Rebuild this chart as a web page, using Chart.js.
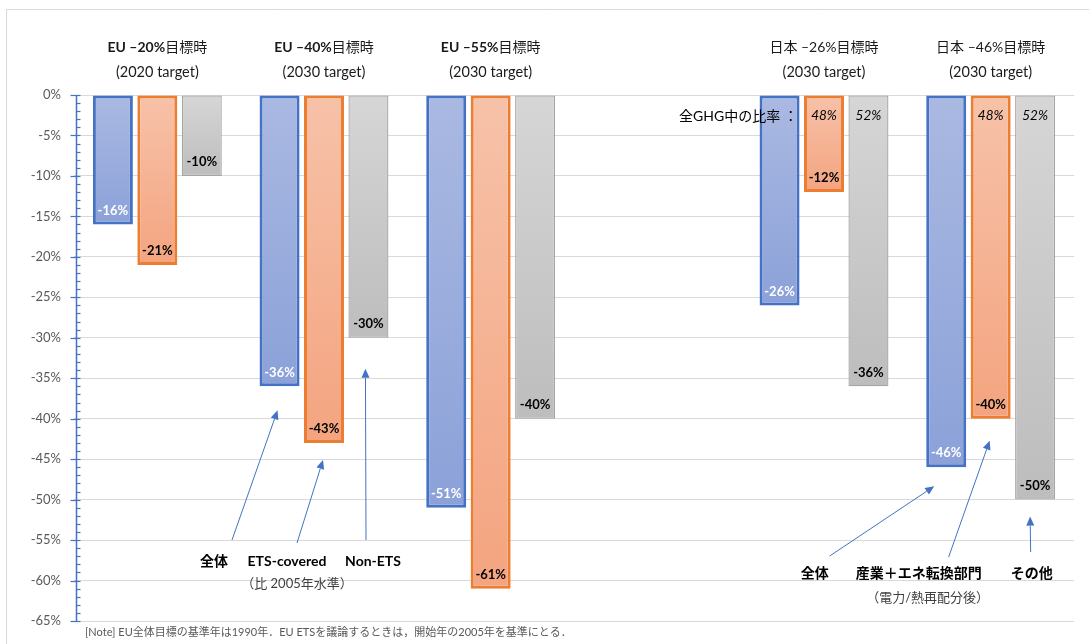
<!DOCTYPE html>
<html>
<head>
<meta charset="utf-8">
<script src="https://cdn.jsdelivr.net/npm/chart.js@4.4.1/dist/chart.umd.min.js"></script>
<style>
  html, body { margin: 0; padding: 0; background: #ffffff; }
  #wrap { position: relative; width: 1089px; height: 644px; }
</style>
</head>
<body>
<div id="wrap"><canvas id="c" width="1089" height="644"></canvas></div>
<script>
// ---- data ----
const categories = ['EU -20%', 'EU -40%', 'EU -55%', '', '日本 -26%', '日本 -46%'];
const totalValues  = [-16, -36, -51, null, -26, -46];   // 全体
const etsValues    = [-21, -43, -61, null, -12, -40];   // ETS-covered / 産業+エネ転換部門
const nonEtsValues = [-10, -30, -40, null, -36, -50];   // Non-ETS / その他
const titleBold    = ['EU –20%', 'EU –40%', 'EU –55%', '', '', ''];
const titleRegular = ['目標時', '目標時', '目標時', '', '日本 –26%目標時', '日本 –46%目標時'];
const titleSub     = ['(2020 target)', '(2030 target)', '(2030 target)', '', '(2030 target)', '(2030 target)'];
const shareEts     = [null, null, null, null, '48%', '48%'];
const shareNonEts  = [null, null, null, null, '52%', '52%'];
const yMin = -65, yMax = 0, yStep = 5;
const noteText = '[Note] EU全体目標の基準年は1990年．EU ETSを議論するときは，開始年の2005年を基準にとる．';

const FONT = 'Lato, "Noto Sans CJK JP", sans-serif';
const AXIS_SHIFT = 2;

function grad(top, bottom) {
  return (ctx) => {
    const chart = ctx.chart;
    if (ctx.type !== 'data' || !chart.scales || !chart.scales.y || ctx.raw == null) return bottom;
    const ys = chart.scales.y;
    const y0 = ys.getPixelForValue(0), y1 = ys.getPixelForValue(ctx.raw);
    if (!isFinite(y0) || !isFinite(y1)) return bottom;
    const g = chart.ctx.createLinearGradient(0, y0, 0, y1);
    g.addColorStop(0, top);
    g.addColorStop(1, bottom);
    return g;
  };
}

function arrow(c, x1, y1, x2, y2) {
  c.save();
  c.strokeStyle = '#4472C4';
  c.fillStyle = '#4472C4';
  c.lineWidth = 1;
  const a = Math.atan2(y2 - y1, x2 - x1);
  const L = 9, W = 4;
  const bx = x2 - L * Math.cos(a), by = y2 - L * Math.sin(a);
  c.beginPath(); c.moveTo(x1, y1); c.lineTo(bx, by); c.stroke();
  c.beginPath();
  c.moveTo(x2, y2);
  c.lineTo(bx + W * Math.sin(a), by - W * Math.cos(a));
  c.lineTo(bx - W * Math.sin(a), by + W * Math.cos(a));
  c.closePath(); c.fill();
  c.restore();
}

const framePlugin = {
  id: 'frame',
  beforeDraw(chart) {
    const c = chart.ctx;
    c.save();
    c.fillStyle = '#fff';
    c.fillRect(0, 0, chart.width, chart.height);
    c.strokeStyle = '#d9d9d9';
    c.lineWidth = 1;
    c.beginPath();
    c.moveTo(6.5, chart.height); c.lineTo(6.5, 9.5); c.lineTo(chart.width, 9.5);
    c.stroke();
    c.restore();
  }
};

const axisPlugin = {
  id: 'blueAxis',
  afterDatasetsDraw(chart) {
    const c = chart.ctx, ys = chart.scales.y, ca = chart.chartArea;
    const x = Math.round(ca.left) + AXIS_SHIFT + 0.5;
    c.save();
    c.strokeStyle = '#4472C4';
    c.lineWidth = 1.5;
    c.beginPath(); c.moveTo(x, ys.getPixelForValue(yMax)); c.lineTo(x, ys.getPixelForValue(yMin)); c.stroke();
    c.lineWidth = 1.2;
    for (let v = yMax; v >= yMin; v -= 1) {
      const y = Math.round(ys.getPixelForValue(v)) + 0.5;
      c.beginPath();
      if (v % yStep === 0) { c.moveTo(x - 6, y); c.lineTo(x + 4, y); }
      else { c.moveTo(x, y); c.lineTo(x + 4, y); }
      c.stroke();
    }
    c.restore();
  }
};

const labelPlugin = {
  id: 'labels',
  afterDatasetsDraw(chart) {
    const c = chart.ctx;
    const xs = chart.scales.x, ys = chart.scales.y;
    const labelColors = ['#ffffff', '#000000', '#000000'];
    c.save();
    c.textAlign = 'center';
    c.textBaseline = 'middle';
    // value labels near bar ends
    chart.data.datasets.forEach((ds, di) => {
      const meta = chart.getDatasetMeta(di);
      meta.data.forEach((el, i) => {
        const v = ds.data[i];
        if (v == null) return;
        c.font = 'bold 13px ' + FONT;
        c.fillStyle = labelColors[di];
        c.fillText(v + '%', el.x, el.y - 14);
      });
    });
    // share labels (italic)
    const etsMeta = chart.getDatasetMeta(1), nonMeta = chart.getDatasetMeta(2);
    c.font = 'italic 13.5px ' + FONT;
    c.fillStyle = '#000';
    const yShare = ys.getPixelForValue(-2.6);
    shareEts.forEach((s, i) => { if (s) c.fillText(s, etsMeta.data[i].x, yShare); });
    shareNonEts.forEach((s, i) => { if (s) c.fillText(s, nonMeta.data[i].x, yShare); });
    // "全GHG中の比率 ："
    const firstShare = shareEts.findIndex(s => s);
    if (firstShare >= 0) {
      c.textAlign = 'left';
      c.font = '14px ' + FONT;
      c.fillText('全GHG中の比率 ：', xs.getPixelForValue(firstShare) - 145, yShare);
    }
    // group titles
    c.fillStyle = '#1a1a1a';
    categories.forEach((cat, i) => {
      const cx = xs.getPixelForValue(i);
      const b = titleBold[i], r = titleRegular[i];
      if (b || r) {
        c.font = 'bold 14px ' + FONT; const wb = c.measureText(b).width;
        c.font = '14px ' + FONT; const wr = c.measureText(r).width;
        let x0 = cx - (wb + wr) / 2;
        c.textAlign = 'left';
        c.font = 'bold 14px ' + FONT; c.fillText(b, x0, 47);
        c.font = '14px ' + FONT; c.fillText(r, x0 + wb, 47);
      }
      if (titleSub[i]) {
        c.textAlign = 'center';
        c.font = '14.5px ' + FONT;
        c.fillText(titleSub[i], cx, 72);
      }
    });

    // bottom annotations for EU -40% group
    const eu = 1, cxE = xs.getPixelForValue(eu);
    const m0 = chart.getDatasetMeta(0).data, m1 = etsMeta.data, m2 = nonMeta.data;
    arrow(c, cxE - 92, 540, m0[eu].x - 2, m0[eu].y + 24);
    arrow(c, cxE - 27, 543, m1[eu].x - 1, m1[eu].y + 17);
    arrow(c, cxE + 42, 540, m2[eu].x - 3, m2[eu].y + 31);
    c.textAlign = 'center';
    c.fillStyle = '#000';
    c.font = 'bold 14px ' + FONT;
    c.fillText('全体', cxE - 110, 561);
    c.fillText('ETS-covered', cxE - 37, 561);
    c.fillText('Non-ETS', cxE + 49, 561);
    c.font = '13px ' + FONT;
    c.fillStyle = '#404040';
    c.fillText('（比 2005年水準）', cxE - 27, 584);

    // bottom annotations for Japan -46% group
    const jp = 5, cxJ = xs.getPixelForValue(jp);
    arrow(c, cxJ - 161, 556, m0[jp].x - 12, m0[jp].y + 19);
    arrow(c, cxJ - 42, 557, m1[jp].x - 1, m1[jp].y + 22);
    arrow(c, cxJ + 40, 552, m2[jp].x - 5, m2[jp].y + 17);
    c.fillStyle = '#000';
    c.font = 'bold 14px ' + FONT;
    c.fillText('全体', cxJ - 176, 573);
    c.fillText('産業＋エネ転換部門', cxJ - 72, 573);
    c.fillText('その他', cxJ + 41, 573);
    c.font = '13px ' + FONT;
    c.fillStyle = '#404040';
    c.fillText('（電力/熱再配分後）', cxJ - 63, 598);

    // note
    c.textAlign = 'left';
    c.font = '11px ' + FONT;
    c.fillStyle = '#595959';
    c.fillText(noteText, 85, 632);
    c.restore();
  }
};

new Chart(document.getElementById('c'), {
  type: 'bar',
  data: {
    labels: categories,
    datasets: [
      { label: '全体', data: totalValues,
        backgroundColor: grad('#AAB9E2', '#8BA1D8'), borderColor: '#4472C4', borderWidth: 3, borderSkipped: false },
      { label: 'ETS-covered', data: etsValues,
        backgroundColor: grad('#F7C2A9', '#F4A47F'), borderColor: '#ED7D31', borderWidth: 3, borderSkipped: false },
      { label: 'Non-ETS', data: nonEtsValues,
        backgroundColor: grad('#D6D6D6', '#BDBDBD'), borderColor: '#A5A5A5', borderWidth: 1.3, borderSkipped: false }
    ]
  },
  options: {
    responsive: false,
    animation: false,
    events: [],
    layout: { padding: { top: 95, right: 15, bottom: 23, left: 0 } },
    datasets: { bar: { categoryPercentage: 0.8, barPercentage: 0.9 } },
    plugins: { legend: { display: false }, tooltip: { enabled: false }, title: { display: false } },
    scales: {
      x: { display: false, grid: { display: false } },
      y: {
        min: yMin, max: yMax,
        afterFit(s) { s.width = 76 - AXIS_SHIFT; },
        border: { display: false },
        grid: { color: '#d9d9d9', lineWidth: 1, drawTicks: false },
        ticks: {
          stepSize: yStep,
          padding: 13,
          color: '#595959',
          font: { family: FONT, size: 13 },
          callback: (v) => v + '%'
        }
      }
    }
  },
  plugins: [framePlugin, axisPlugin, labelPlugin]
});
</script>
</body>
</html>
